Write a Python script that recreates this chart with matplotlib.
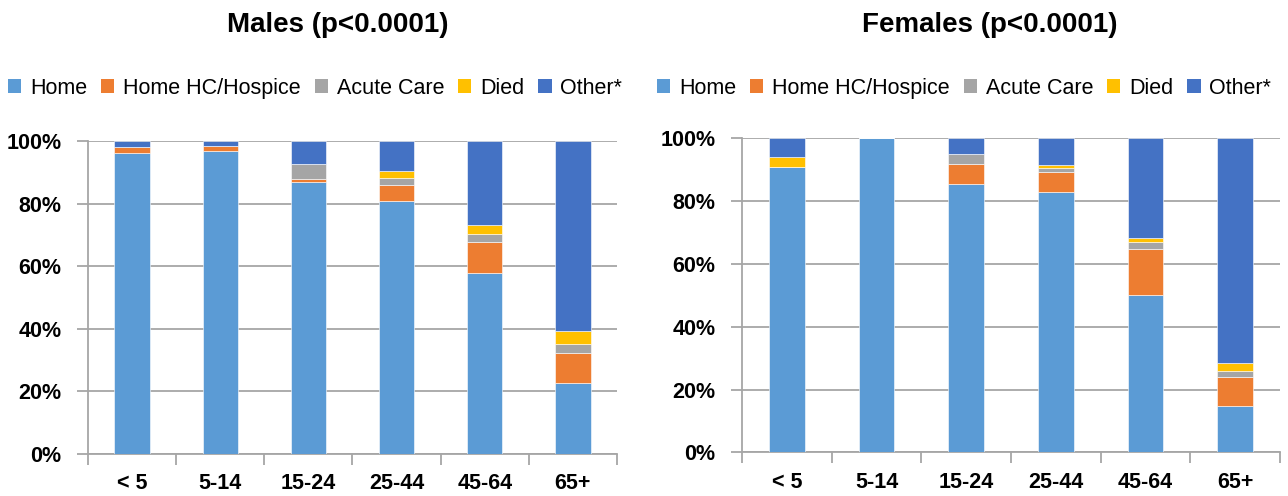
import matplotlib
matplotlib.use('Agg')
import matplotlib.pyplot as plt
from matplotlib.patches import Patch
import numpy as np

plt.rcParams['font.family'] = ['Liberation Sans', 'DejaVu Sans']

# age groups and outcome categories
ages = ['< 5', '5-14', '15-24', '25-44', '45-64', '65+']
outcomes = ['Home', 'Home HC/Hospice', 'Acute Care', 'Died', 'Other*']
colors = ['#5B9BD5', '#ED7D31', '#A5A5A5', '#FFC000', '#4472C4']

# percent of patients per outcome
male_home = [96.3, 96.8, 87.0, 80.9, 57.9, 22.6]
male_hc = [1.8, 1.6, 0.9, 5.0, 9.9, 9.8]
male_acute = [0.0, 0.0, 4.8, 2.4, 2.6, 2.8]
male_died = [0.0, 0.0, 0.0, 2.2, 2.8, 4.2]
male_other = [1.9, 1.6, 7.3, 9.5, 26.8, 60.6]

female_home = [90.8, 100.0, 85.3, 82.9, 50.0, 14.8]
female_hc = [0.0, 0.0, 6.5, 6.4, 14.8, 9.2]
female_acute = [0.0, 0.0, 3.3, 1.3, 2.2, 1.8]
female_died = [3.1, 0.0, 0.0, 0.9, 1.1, 2.6]
female_other = [6.1, 0.0, 4.9, 8.5, 31.9, 71.6]

males = [male_home, male_hc, male_acute, male_died, male_other]
females = [female_home, female_hc, female_acute, female_died, female_other]

fig = plt.figure(figsize=(12.88, 4.96), dpi=100)
ax_m = fig.add_axes([88 / 1288, 42 / 496, 529 / 1288, 313 / 496])
ax_f = fig.add_axes([742 / 1288, 43.7 / 496, 538 / 1288, 314 / 496])

grid_c = '#A6A6A6'
x = np.arange(len(ages))

for ax, data in [(ax_m, males), (ax_f, females)]:
    bottom = np.zeros(len(ages))
    for vals, c in zip(data, colors):
        vals = np.array(vals)
        ax.bar(x, vals, 0.4, bottom=bottom, color=c,
               edgecolor='white', linewidth=0.4, zorder=3)
        bottom += vals
    ax.set_xlim(-0.5, len(ages) - 0.5)
    ax.set_ylim(0, 100)
    ax.set_yticks(range(0, 101, 20))
    ax.set_yticklabels(['%d%%' % v for v in range(0, 101, 20)])
    ax.yaxis.grid(True, color=grid_c, linewidth=1.3, zorder=0)
    ax.set_xticks(x)
    ax.set_xticklabels(ages)
    ax.set_xticks(np.arange(-0.5, len(ages)), minor=True)
    ax.tick_params(axis='x', which='major', length=0, pad=14)
    ax.tick_params(axis='x', which='minor', length=8, color=grid_c, width=1.3)
    ax.tick_params(axis='y', length=8, color=grid_c, width=1.3, pad=11)
    for lab in ax.get_xticklabels() + ax.get_yticklabels():
        lab.set_fontsize(15.5)
        lab.set_fontweight('bold')
    for s in ['top', 'right']:
        ax.spines[s].set_visible(False)
    for s in ['left', 'bottom']:
        ax.spines[s].set_color(grid_c)
        ax.spines[s].set_linewidth(1.3)

fig.text(337.5 / 1288, (496 - 31.7) / 496, 'Males (p<0.0001)',
         ha='center', va='baseline', fontsize=20, fontweight='bold')
fig.text(990 / 1288, (496 - 31.7) / 496, 'Females (p<0.0001)',
         ha='center', va='baseline', fontsize=20, fontweight='bold')

handles = [Patch(facecolor=c, label=l) for c, l in zip(colors, outcomes)]
for x0 in [8, 657]:
    fig.legend(handles=handles, loc='center left',
               bbox_to_anchor=(x0 / 1288, (496 - 88.5) / 496),
               ncol=5, frameon=False, fontsize=15.5, borderpad=0,
               borderaxespad=0, handlelength=0.62, handleheight=0.62,
               handletextpad=0.4, columnspacing=0.65)

plt.savefig('out.png', dpi=100)
